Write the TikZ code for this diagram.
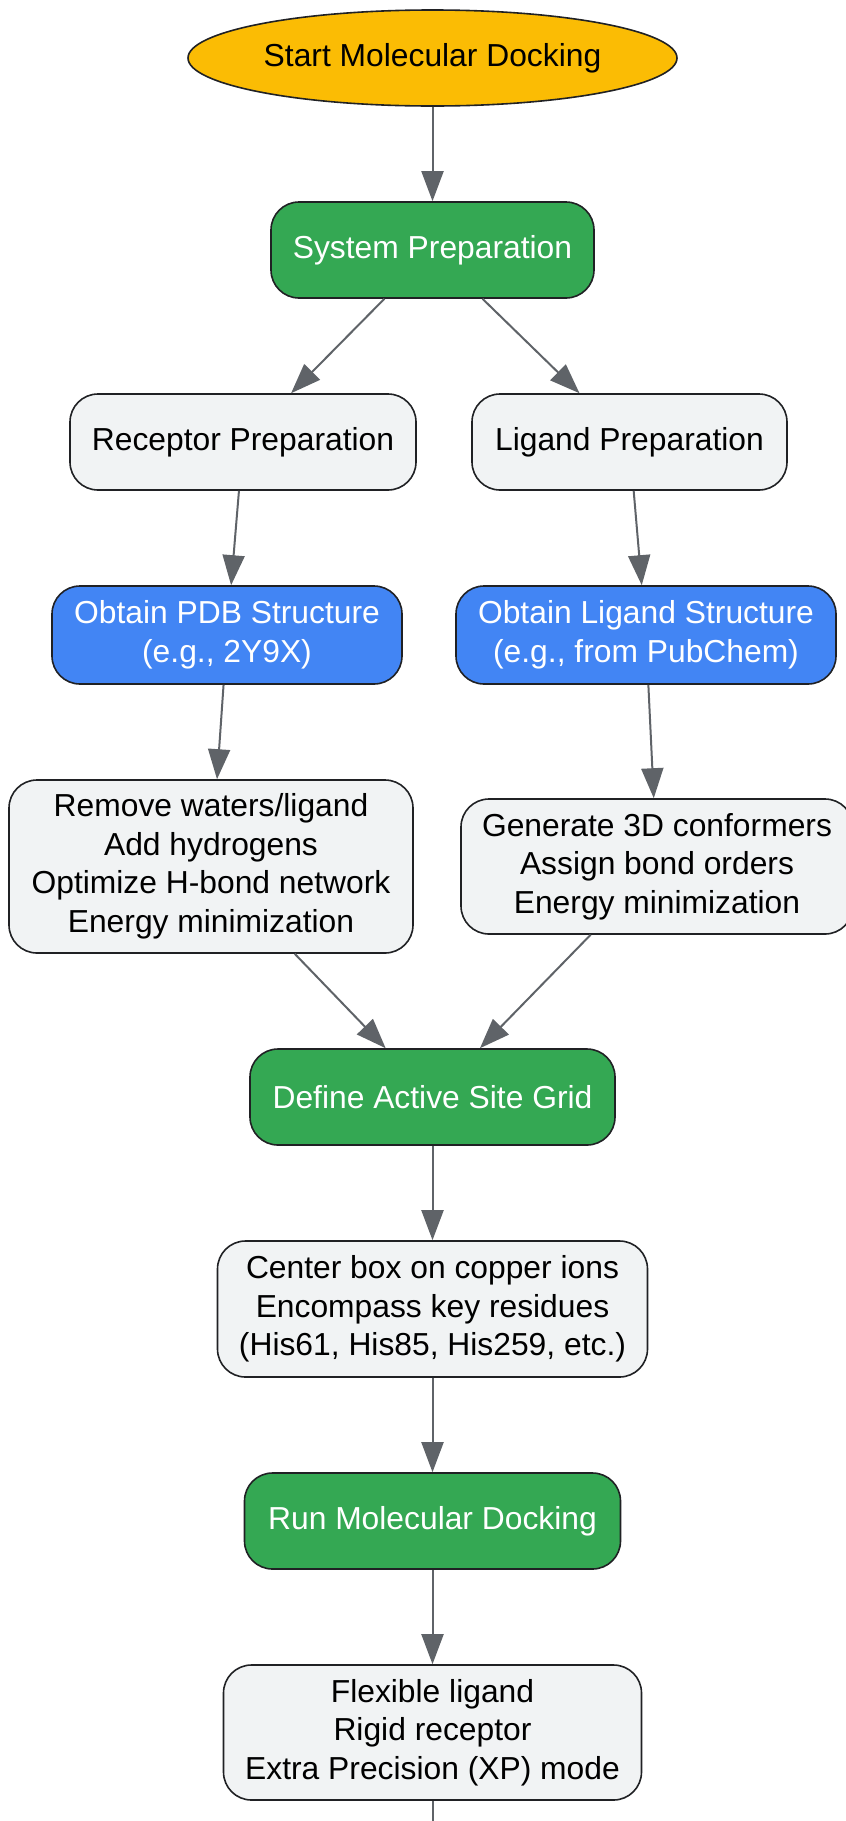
\documentclass[tikz,border=0pt]{standalone}
\usepackage{fontspec}
\setmainfont{Liberation Sans}
\usetikzlibrary{positioning,arrows.meta,shapes.geometric}
\definecolor{startyellow}{HTML}{FBBC04}
\definecolor{phasegreen}{HTML}{34A853}
\definecolor{fetchblue}{HTML}{4285F4}
\definecolor{notegray}{HTML}{F1F3F4}
\definecolor{edgegray}{HTML}{5F6368}
\definecolor{linegray}{HTML}{202124}

\begin{document}
\begin{tikzpicture}[x=1pt, y=1pt, node distance=94.4pt,
        every node/.style={font=\fontsize{31.8pt}{38.5pt}\selectfont},
        block/.style={rectangle, draw=linegray, line width=1.6pt, rounded corners=28pt, align=center, inner sep=0pt, minimum height=96pt},
        phase/.style={block, fill=phasegreen, text=white},
        source/.style={block, fill=fetchblue, text=white, minimum height=98pt},
        detail/.style={block, fill=notegray},
        flow/.style={draw=edgegray, line width=2pt, -{Triangle[length=30pt,width=22pt]}}]
        \useasboundingbox (0,0) rectangle (846,-1821);

        \node[ellipse, draw=linegray, line width=1.6pt, fill=startyellow, inner sep=0pt, minimum width=489pt, minimum height=96pt] (start) at (432.5,-58) {Start Molecular Docking};
        \node[phase, minimum width=323pt, below=of start] (sysprep) {System Preparation};
        \node[detail, minimum width=346pt, below=of sysprep, xshift=-189.5pt] (recprep) {Receptor Preparation};
        \node[detail, minimum width=315pt, below=of sysprep, xshift=197pt] (ligprep) {Ligand Preparation};
        \node[source, minimum width=350pt, below=of recprep, xshift=-16pt] (pdb) {Obtain PDB Structure\\(e.g., 2Y9X)};
        \node[source, minimum width=380pt, below=of ligprep, xshift=16.5pt] (ligsrc) {Obtain Ligand Structure\\(e.g., from PubChem)};
        \node[detail, minimum width=404pt, minimum height=173pt, below=of pdb, xshift=-16pt] (recclean) {Remove waters/ligand\\Add hydrogens\\Optimize H-bond network\\Energy minimization};
        \node[detail, minimum width=392pt, minimum height=135pt, right=46.4pt of recclean] (ligclean) {Generate 3D conformers\\Assign bond orders\\Energy minimization};
        \node[phase, minimum width=365pt, below=of recclean, xshift=221.5pt] (grid) {Define Active Site Grid};
        \node[detail, minimum width=430pt, minimum height=136pt, below=of grid] (gridbox) {Center box on copper ions\\Encompass key residues\\(His61, His85, His259, etc.)};
        \node[phase, minimum width=376pt, below=of gridbox] (dock) {Run Molecular Docking};
        \node[detail, minimum width=418pt, minimum height=135pt, below=of dock] (dockset) {Flexible ligand\\Rigid receptor\\Extra Precision (XP) mode};
        \coordinate (out) at (432.5,-1821);

        \draw[flow] (start) -- (sysprep);
        \draw[flow] (sysprep) -- (recprep);
        \draw[flow] (sysprep) -- (ligprep);
        \draw[flow] (recprep) -- (pdb);
        \draw[flow] (ligprep) -- (ligsrc);
        \draw[flow] (pdb) -- (recclean);
        \draw[flow] (ligsrc) -- (ligclean);
        \draw[flow] (recclean) -- (grid);
        \draw[flow] (ligclean) -- (grid);
        \draw[flow] (grid) -- (gridbox);
        \draw[flow] (gridbox) -- (dock);
        \draw[flow] (dock) -- (dockset);
        \draw[draw=edgegray, line width=2pt] (dockset) -- (out);
    \end{tikzpicture}
\end{document}
